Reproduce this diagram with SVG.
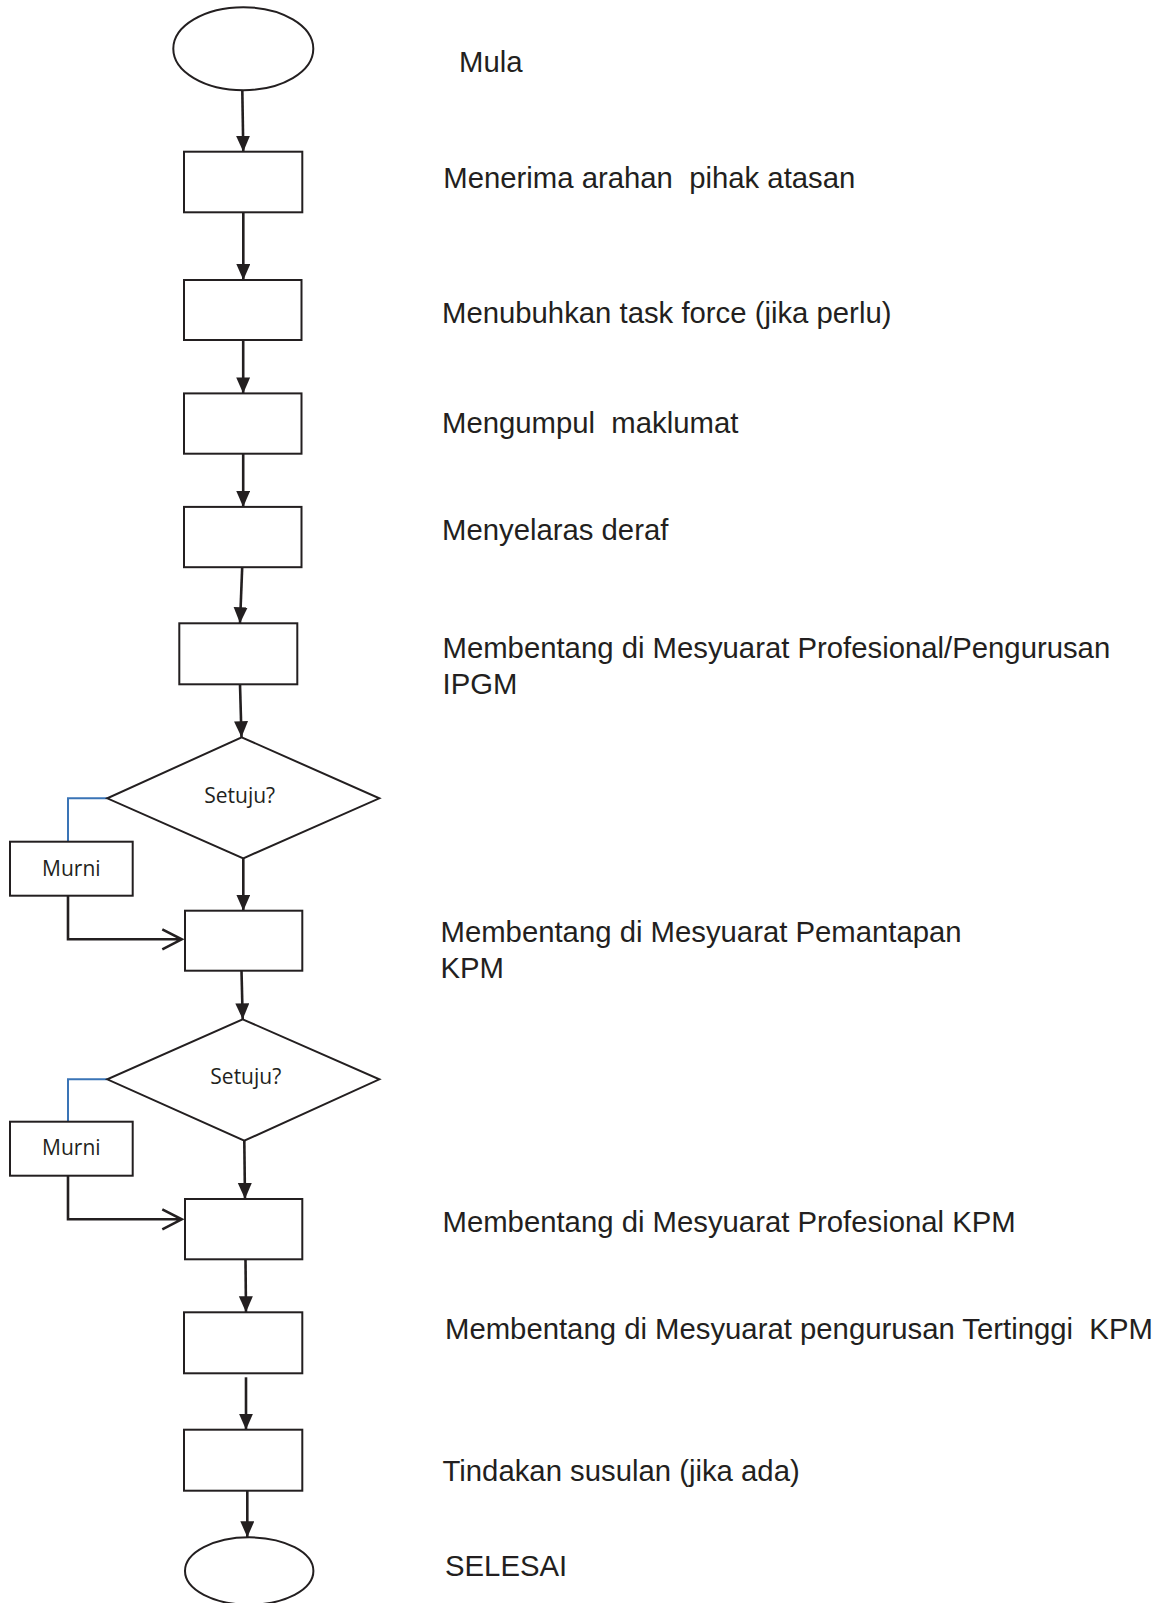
<svg xmlns="http://www.w3.org/2000/svg" width="1167" height="1603" viewBox="0 0 1167 1603">
<style>
.shape{fill:#fff;stroke:#231f20;stroke-width:2}
.lbl{font-family:"Liberation Sans",Arial,sans-serif;font-size:29.3px;fill:#231f20;white-space:pre}
.small{font-family:"Open Sans","Noto Sans",sans-serif;font-size:21px;fill:#231f20;text-anchor:middle}
.conn{fill:none;stroke:#231f20;stroke-width:2.6}
.blue{fill:none;stroke:#3a74b6;stroke-width:2}
</style>
<defs>
<marker id="ah" markerUnits="userSpaceOnUse" markerWidth="18" markerHeight="16" refX="16" refY="7" orient="auto">
<path d="M0,0 L16,7 L0,14 z" fill="#231f20"/>
</marker>
</defs>
<rect width="1167" height="1603" fill="#fff"/>
<g id="connectors">
<line class="conn" x1="242.3" y1="90" x2="243.3" y2="151.7" marker-end="url(#ah)"/>
<line class="conn" x1="243.3" y1="212.3" x2="243.3" y2="280" marker-end="url(#ah)"/>
<line class="conn" x1="243.2" y1="340" x2="243.2" y2="393.4" marker-end="url(#ah)"/>
<line class="conn" x1="243.2" y1="453.7" x2="243.2" y2="506.9" marker-end="url(#ah)"/>
<line class="conn" x1="242.2" y1="567.2" x2="240" y2="623.3" marker-end="url(#ah)"/>
<line class="conn" x1="240" y1="684.3" x2="241.5" y2="737.3" marker-end="url(#ah)"/>
<line class="conn" x1="243.3" y1="858.3" x2="243.3" y2="910.7" marker-end="url(#ah)"/>
<line class="conn" x1="241.5" y1="970.7" x2="242.7" y2="1019.3" marker-end="url(#ah)"/>
<line class="conn" x1="244.3" y1="1140.7" x2="245" y2="1199" marker-end="url(#ah)"/>
<line class="conn" x1="245.5" y1="1259.3" x2="246" y2="1312.3" marker-end="url(#ah)"/>
<line class="conn" x1="246" y1="1377.3" x2="246" y2="1429.7" marker-end="url(#ah)"/>
<line class="conn" x1="247.3" y1="1490.7" x2="247.3" y2="1537.3" marker-end="url(#ah)"/>
<path class="blue" d="M107.3,798.3 H68 V841.7"/>
<path class="conn" d="M68,895.7 V939.3 H181.7 M162.3,929.3 L181.7,939.3 L162.3,949.3"/>
<path class="blue" d="M107.3,1079.3 H68 V1121.7"/>
<path class="conn" d="M68,1175.7 V1219.3 H181.7 M162.3,1209.3 L181.7,1219.3 L162.3,1229.3"/>
</g>
<g id="start"><ellipse class="shape" cx="243.3" cy="48.7" rx="70" ry="41.5"/><text class="lbl" x="459" y="72.3">Mula</text></g>
<g id="step1"><rect class="shape" x="184" y="151.7" width="118.3" height="60.6"/><text class="lbl" x="443.3" y="187.5" xml:space="preserve">Menerima arahan  pihak atasan</text></g>
<g id="step2"><rect class="shape" x="184" y="280" width="117.5" height="60"/><text class="lbl" x="442" y="322.7">Menubuhkan task force (jika perlu)</text></g>
<g id="step3"><rect class="shape" x="184" y="393.4" width="117.5" height="60.3"/><text class="lbl" x="442" y="433" xml:space="preserve">Mengumpul  maklumat</text></g>
<g id="step4"><rect class="shape" x="184" y="506.9" width="117.5" height="60.3"/><text class="lbl" x="442" y="540">Menyelaras deraf</text></g>
<g id="step5"><rect class="shape" x="179.3" y="623.3" width="118" height="61"/><text class="lbl" x="442.5" y="658">Membentang di Mesyuarat Profesional/Pengurusan</text><text class="lbl" x="442.5" y="694">IPGM</text></g>
<g id="decision1"><polygon class="shape" points="241.7,737.3 379.3,798.3 243.3,858.3 107.3,798.3"/><text class="small" x="239.7" y="803.3">Setuju?</text></g>
<g id="murni1"><rect class="shape" x="10" y="841.7" width="122.7" height="54"/><text class="small" x="71.3" y="876">Murni</text></g>
<g id="step6"><rect class="shape" x="185" y="910.7" width="117.3" height="60"/><text class="lbl" x="440.5" y="942">Membentang di Mesyuarat Pemantapan</text><text class="lbl" x="440.5" y="978">KPM</text></g>
<g id="decision2"><polygon class="shape" points="242.7,1019.3 379.3,1079.3 244.3,1140.7 107.3,1079.3"/><text class="small" x="245.8" y="1084">Setuju?</text></g>
<g id="murni2"><rect class="shape" x="10" y="1121.7" width="122.7" height="54"/><text class="small" x="71.3" y="1155">Murni</text></g>
<g id="step7"><rect class="shape" x="185" y="1199" width="117.3" height="60.3"/><text class="lbl" x="442.5" y="1232">Membentang di Mesyuarat Profesional KPM</text></g>
<g id="step8"><rect class="shape" x="184" y="1312.3" width="118.3" height="61"/><text class="lbl" x="445" y="1339" xml:space="preserve">Membentang di Mesyuarat pengurusan Tertinggi  KPM</text></g>
<g id="step9"><rect class="shape" x="184" y="1429.7" width="118.3" height="61"/><text class="lbl" x="442.5" y="1481">Tindakan susulan (jika ada)</text></g>
<g id="end"><ellipse class="shape" cx="249.2" cy="1571" rx="64.2" ry="33.7"/><text class="lbl" x="445" y="1575.5">SELESAI</text></g>
</svg>
